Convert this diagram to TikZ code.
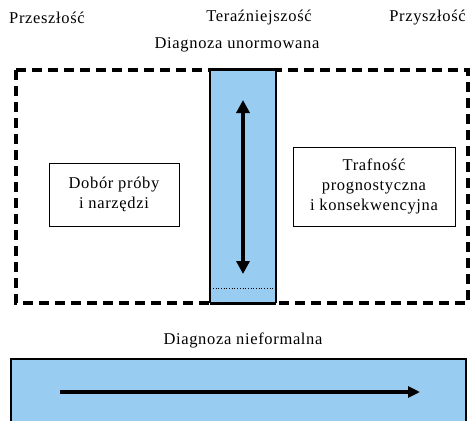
\documentclass[tikz,border=0pt]{standalone}
\usepackage{fontspec}
\setmainfont{Liberation Serif}[LetterSpace=4]
\usepackage{tikz}
\usetikzlibrary{arrows.meta,positioning}
\definecolor{dotBlue}{HTML}{98CCF0}

\begin{document}
\begin{tikzpicture}[
    x=1pt, y=-1pt,
    font=\rmfamily\fontsize{16.5}{20}\selectfont,
    label/.style={inner sep=0pt},
    textbox/.style={draw, line width=0.9pt, align=center, inner sep=0pt},
    column/.style={fill=dotBlue, inner sep=0pt, minimum width=66pt, minimum height=233pt},
    frame/.style={line width=3.2pt, dash pattern=on 10pt off 6pt},
    bigarrow/.style={-{Triangle[width=13pt,length=13pt]}, line width=4pt}
]
    \useasboundingbox (0,0) rectangle (470,420);

    % time labels
    \node[label, anchor=west] (past) at (9,18) {Przeszłość};
    \node[label] (present) at (259,18) {Teraźniejszość};
    \node[label, anchor=east] (future) at (466,18) {Przyszłość};
    \node[label] (formal) at (237,45) {Diagnoza unormowana};

    % dashed frame
    \draw[frame] (16,70) rectangle (468,303);

    % present column
    \node[column] (now) at (243,186.5) {};
    \draw[line width=2pt] (now.north west) -- (now.south west)
        (now.north east) -- (now.south east);
    \draw[line width=3.2pt] (now.north west) -- (now.north east)
        (now.south west) -- (now.south east);
    \draw[dotted, line width=0.7pt] ([xshift=3pt,yshift=15pt]now.south west) -- ([xshift=-3pt,yshift=15pt]now.south east);
    \coordinate (upEnd) at (243,100);
    \coordinate (downEnd) at (243,274);
    \draw[bigarrow, {Triangle[width=13pt,length=13pt]}-{Triangle[width=13pt,length=13pt]}] (upEnd) -- (downEnd);

    % side boxes
    \node[textbox, minimum width=130pt, minimum height=63pt] (sample) at (114,194.5) {Dobór próby\\i narzędzi};
    \node[textbox, minimum width=162pt, minimum height=79pt] (validity) at (374,186.5) {Trafność\\prognostyczna\\i konsekwencyjna};

    % informal diagnosis
    \node[label] (informal) at (243,340) {Diagnoza nieformalna};
    \node[fill=dotBlue, draw, line width=1.6pt, inner sep=0pt, minimum width=455pt, minimum height=90pt] (band) at (238.5,404) {};
    \coordinate (flowStart) at (60,392);
    \coordinate (flowEnd) at (420,392);
    \draw[bigarrow, line width=3.2pt, -{Triangle[width=11pt,length=12pt]}] (flowStart) -- (flowEnd);
\end{tikzpicture}
\end{document}
